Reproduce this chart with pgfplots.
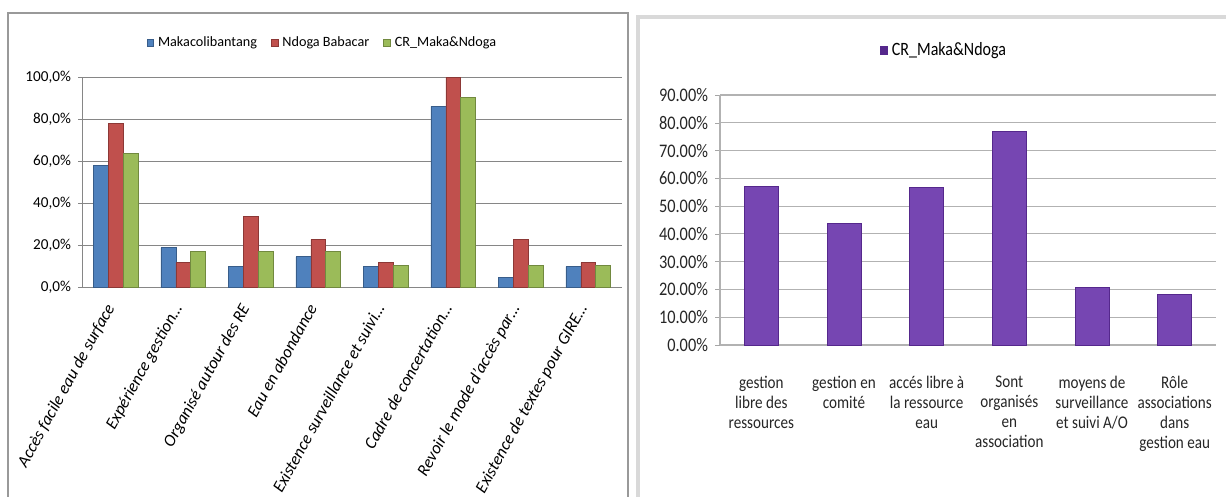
\documentclass[border=0pt]{standalone}
\usepackage{fontspec}
\setmainfont{Carlito}
\newfontfamily\condfont[FakeStretch=0.85]{Carlito}
\usepackage{pgfplots}
\pgfplotsset{compat=1.18}
\definecolor{cblue}{HTML}{4F81BD}
\definecolor{cblueD}{HTML}{385D8A}
\definecolor{cred}{HTML}{C0504D}
\definecolor{credD}{HTML}{8C3836}
\definecolor{cgreen}{HTML}{9BBB59}
\definecolor{cgreenD}{HTML}{71893F}
\definecolor{cpurp}{HTML}{7646B2}
\definecolor{cpurpD}{HTML}{55288C}
\definecolor{gridc}{HTML}{868686}
\begin{document}
\begin{tikzpicture}[x=0.5pt,y=-0.5pt]
\useasboundingbox (0,0) rectangle (1226,497);
\fill[white] (0,0) rectangle (1226,497);
\draw[gray!80, line width=0.6pt] (8,497) -- (8,13) -- (628,13) -- (628,497);
\draw[gray!30, line width=1.6pt] (638,497) -- (638,17) -- (1226,17);
\coordinate (L) at (82,287);
\coordinate (R) at (720,345);
\begin{axis}[
  at={(L)}, anchor=south west, scale only axis,
  width=270pt, height=105pt,
  ybar=0pt, bar width=0.22,
  xmin=-0.5, xmax=7.5, ymin=0, ymax=100,
  xtick={0,...,7},
  xticklabels={Accès facile eau de surface, Expérience gestion…, Organisé autour des RE, Eau en abondance, Existence surveillance et suivi…, Cadre de concertation…, Revoir le mode d'accès par…, Existence de textes pour GIRE…},
  xticklabel style={xshift=-6pt, yshift=-4pt, rotate=61, anchor=north east, font=\itshape\fontsize{8.5}{9}\selectfont, inner sep=1pt},
  xtick style={draw=none},
  ytick={0,20,...,100},
  yticklabels={{0,0\%},{20,0\%},{40,0\%},{60,0\%},{80,0\%},{100,0\%}},
  yticklabel style={font=\fontsize{7.6}{9}\selectfont},
  tick align=outside, major tick length=2pt,
  ytick style={gridc},
  ymajorgrids, grid style={gridc, line width=0.5pt},
  axis x line*=bottom, axis y line*=left,
  axis line style={gridc, line width=0.5pt},
  legend style={at={(0.447,1.162)}, anchor=center, draw=none, fill=none,
    font=\fontsize{7.1}{8}\selectfont, legend columns=-1,
    /tikz/every even column/.append style={column sep=5pt}},
  legend image code/.code={\fill[#1] (0pt,-1.8pt) rectangle (3.4pt,1.8pt);},
]
\addplot[fill=cblue, draw=cblueD, line width=0.3pt] coordinates {(0,57.9) (1,18.8) (2,9.7) (3,14.4) (4,9.7) (5,86.0) (6,4.6) (7,9.7)};
\addplot[fill=cred, draw=credD, line width=0.3pt] coordinates {(0,78.0) (1,11.6) (2,33.5) (3,22.6) (4,11.6) (5,100) (6,22.6) (7,11.6)};
\addplot[fill=cgreen, draw=cgreenD, line width=0.3pt] coordinates {(0,63.8) (1,16.8) (2,16.8) (3,16.8) (4,10.1) (5,90.3) (6,10.1) (7,10.1)};
\legend{Makacolibantang, Ndoga Babacar, CR\_Maka\&Ndoga}
\end{axis}
\begin{axis}[
  at={(R)}, anchor=south west, scale only axis,
  width=248pt, height=125pt,
  ybar, bar width=0.41,
  xmin=-0.5, xmax=5.5, ymin=0, ymax=90,
  xtick={0,...,5},
  xticklabels={{gestion\\libre des\\ressources},{gestion en\\comité},{accés libre à\\la ressource\\eau},{Sont\\organisés\\en\\association},{moyens de\\surveillance\\et suivi A/O},{Rôle\\associations\\dans\\gestion eau}},
  xticklabel style={align=center, anchor=north, font=\condfont\fontsize{8.9}{10}\selectfont, text=black!85, inner sep=1pt, yshift=-12pt},
  xtick style={draw=none},
  minor xtick={-0.5,0.5,...,5.5},
  minor x tick style={gray!70},
  minor tick length=3.5pt,
  ytick={0,10,...,90},
  yticklabels={{0.00\%},{10.00\%},{20.00\%},{30.00\%},{40.00\%},{50.00\%},{60.00\%},{70.00\%},{80.00\%},{90.00\%}},
  yticklabel style={font=\condfont\fontsize{9.6}{9}\selectfont, text=black!85},
  tick align=outside, major tick length=2.5pt,
  ytick style={gray!70},
  ymajorgrids, grid style={gray!60, line width=0.6pt},
  axis x line*=bottom, axis y line*=left,
  axis line style={gray!60, line width=0.6pt},
  legend style={at={(0.454,1.18)}, anchor=center, draw=none, fill=none,
    font=\condfont\fontsize{9.4}{9}\selectfont, legend columns=-1},
  legend image code/.code={\fill[cpurpD] (0pt,-2pt) rectangle (3.4pt,2pt);},
]
\addplot[fill=cpurp, draw=cpurpD, line width=0.4pt] coordinates {(0,57.2) (1,43.7) (2,56.6) (3,77.0) (4,20.8) (5,18.1)};
\legend{CR\_Maka\&Ndoga}
\end{axis}
\end{tikzpicture}
\end{document}
